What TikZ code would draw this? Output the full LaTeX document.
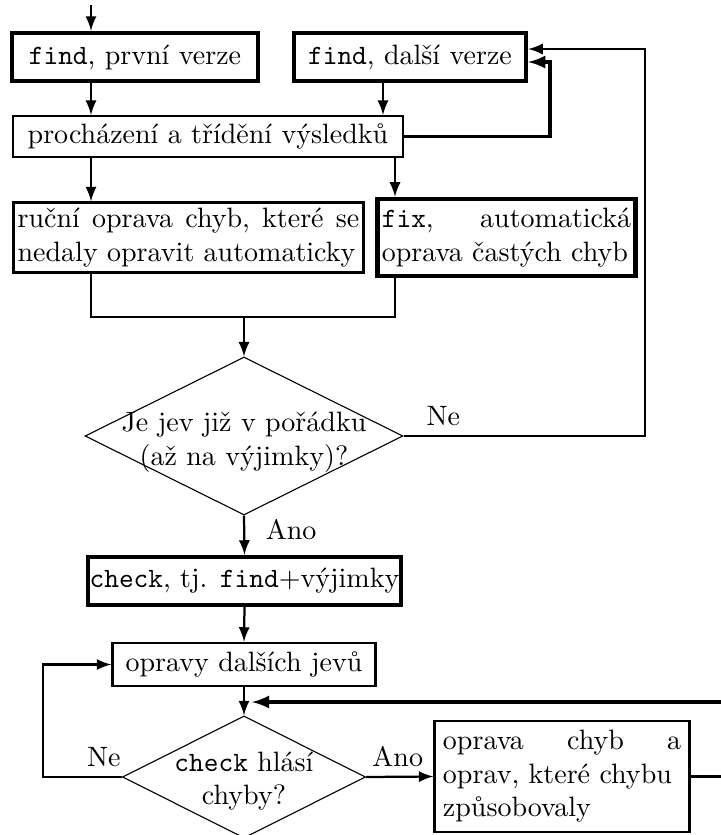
\documentclass[tikz,border=0pt]{standalone}
\usepackage{tikz}
\usetikzlibrary{positioning,arrows,shapes.geometric}
\tikzstyle{process}  = [rectangle, draw, thick, inner xsep=1.5pt, inner ysep=2pt]
\tikzstyle{tool}     = [process, line width=1.6pt]
\tikzstyle{decision} = [diamond, draw, thin, inner sep=0pt]
\tikzstyle{arrow}    = [thick,->,>=latex]
\tikzstyle{line}     = [thick]

\begin{document}
\begin{tikzpicture}[x=0.357pt, y=-0.357pt]
	\useasboundingbox (0,0) rectangle (721,835);
	\clip (0,0) rectangle (721,835);
	% boxes
	\node[tool, minimum width=87.8pt, minimum height=17.1pt] (find1) at (135,57) {\texttt{find}, první verze};
	\node[tool, minimum width=82.8pt, minimum height=17.1pt] (find2) at (410,57) {\texttt{find}, další verze};
	\node[process, minimum width=139.2pt, minimum height=14.6pt] (browse) at (208,136.5) {procházení a třídění výsledků};
	\node[process, text width=122pt, align=left] (manual) at (188.5,237.5) {ruční \hfill oprava \hfill chyb, \hfill které \hfill se\\ nedaly opravit automaticky};
	\node[tool, text width=89pt, align=left, minimum height=27.5pt] (fix) at (506.5,237.5) {\texttt{fix}, \hfill automatická\\ oprava častých chyb};
	\node[decision, minimum width=113.5pt, minimum height=56.4pt] (ok) at (244,436) {};
	\node[align=center] (oktext) at (244,442) {Je jev již v pořádku\\ (až na výjimky)?};
	\node[tool, inner xsep=0.5pt, minimum width=107.5pt, minimum height=17.1pt] (check) at (244.5,581) {\texttt{check}, tj. \texttt{find}+výjimky};
	\node[process, minimum width=93.9pt, minimum height=15.4pt] (next) at (244,664.5) {opravy dalších jevů};
	\node[decision, minimum width=86.8pt, minimum height=43.6pt] (errors) at (244,777) {};
	\node[align=center] (errtext) at (244,781) {\texttt{check} hlásí\\ chyby?};
	\node[process, text width=85pt, align=left, inner xsep=3pt, minimum height=39.6pt] (repair) at (562,776.5) {oprava \hfill chyb \hfill a\\ oprav, které chybu\\ způsobovaly};
	% helper points
	\coordinate (start) at (91,5);
	\coordinate (colB) at (383,0);
	\coordinate (colC) at (395,0);
	\coordinate (loop1) at (550,62);
	\coordinate (loop2) at (645,49);
	\coordinate (join) at (244,317);
	\coordinate (back) at (43,0);
	\coordinate (out) at (745,702);
	\coordinate (fb) at (252,702);
	% connectors
	\draw[arrow] (start) -- (start |- find1.north);
	\draw[arrow] (find1.south -| start) -- (browse.north -| start);
	\draw[arrow] (find2.south -| colB) -- (browse.north -| colB);
	\draw[arrow, line width=1.1pt] (browse.east) -| (loop1) -- (loop1 -| find2.east);
	\draw[arrow] (browse.south -| start) -- (manual.north -| start);
	\draw[arrow] (browse.south -| colC) -- (fix.north -| colC);
	\draw[line] (manual.south -| start) |- (join) -| (fix.south -| colC);
	\draw[arrow] (join) -- (ok.north);
	\draw[arrow] (ok.east) -- node[pos=0.165, above] {Ne} (ok.east -| loop2) -- (loop2) -- (loop2 -| find2.east);
	\draw[arrow] (ok.south) -- node[pos=0.35, right=4pt] {Ano} (check.north);
	\draw[arrow] (check.south) -- (next.north);
	\draw[arrow] (next.south) -- (errors.north);
	\draw[arrow] (errors.west) -- node[pos=0.23, above] {Ne} (errors.west -| back) -- (back |- next.west) -- (next.west);
	\draw[arrow] (errors.east) -- node[pos=0.47, above] {Ano} (repair.west);
	\draw[arrow, line width=1.1pt] (repair.east) -| (out) -- (fb);
\end{tikzpicture}
\end{document}
